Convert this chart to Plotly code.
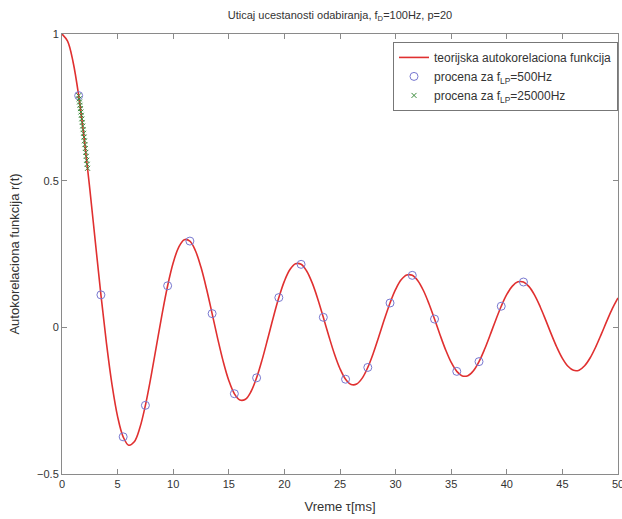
import plotly.graph_objects as go

# theoretical autocorrelation curve, tau in ms
tau_theory = [0.0, 0.5, 1.0, 1.5, 2.0, 2.5, 3.0, 3.5, 4.0, 4.5, 5.0, 5.5, 6.0, 6.5, 7.0, 7.5, 8.0, 8.5, 9.0, 9.5,
              10.0, 10.5, 11.0, 11.5, 12.0, 12.5, 13.0, 13.5, 14.0, 14.5, 15.0, 15.5, 16.0, 16.5, 17.0, 17.5,
              18.0, 18.5, 19.0, 19.5, 20.0, 20.5, 21.0, 21.5, 22.0, 22.5, 23.0, 23.5, 24.0, 24.5, 25.0, 25.5,
              26.0, 26.5, 27.0, 27.5, 28.0, 28.5, 29.0, 29.5, 30.0, 30.5, 31.0, 31.5, 32.0, 32.5, 33.0, 33.5,
              34.0, 34.5, 35.0, 35.5, 36.0, 36.5, 37.0, 37.5, 38.0, 38.5, 39.0, 39.5, 40.0, 40.5, 41.0, 41.5,
              42.0, 42.5, 43.0, 43.5, 44.0, 44.5, 45.0, 45.5, 46.0, 46.5, 47.0, 47.5, 48.0, 48.5, 49.0, 49.5,
              50.0]
r_theory = [1.0, 0.9755, 0.9038, 0.7899, 0.6425, 0.4720, 0.2905, 0.1107, -0.0549, -0.1961,
            -0.3042, -0.3733, -0.4018, -0.3903, -0.3427, -0.2659, -0.1688, -0.0616, 0.0451, 0.1417,
            0.2201, 0.2736, 0.2989, 0.2940, 0.2611, 0.2045, 0.1306, 0.0468, -0.0383, -0.1168,
            -0.1813, -0.2263, -0.2480, -0.2452, -0.2188, -0.1721, -0.1101, -0.0391, 0.0337, 0.1014,
            0.1576, 0.1971, 0.2167, 0.2148, 0.1921, 0.1514, 0.0969, 0.0342, -0.0305, -0.0909,
            -0.1412, -0.1769, -0.1947, -0.1933, -0.1732, -0.1367, -0.0876, -0.0308, 0.0280, 0.0830,
            0.1291, 0.1619, 0.1784, 0.1773, 0.1590, 0.1256, 0.0805, 0.0282, -0.0260, -0.0769,
            -0.1196, -0.1501, -0.1656, -0.1647, -0.1479, -0.1169, -0.0749, -0.0262, 0.0244, 0.0720,
            0.1120, 0.1406, 0.1551, 0.1545, 0.1387, 0.1097, 0.0703, 0.0246, -0.0231, -0.0679,
            -0.1057, -0.1326, -0.1465, -0.1459, -0.1311, -0.1037, -0.0665, -0.0232, 0.0219, 0.0645,
            0.1003]

# estimate, f_LP = 500 Hz
tau_500 = [1.5, 3.5, 5.5, 7.5, 9.5, 11.5, 13.5, 15.5, 17.5, 19.5, 21.5, 23.5, 25.5, 27.5, 29.5,
           31.5, 33.5, 35.5, 37.5, 39.5, 41.5]
r_500 = [0.7899, 0.1107, -0.3733, -0.2659, 0.1417, 0.2940, 0.0468, -0.2263, -0.1721, 0.1014,
         0.2148, 0.0342, -0.1769, -0.1367, 0.0830, 0.1773, 0.0282, -0.1501, -0.1169, 0.0720, 0.1545]

# estimate, f_LP = 25000 Hz
tau_25k = [1.50, 1.54, 1.58, 1.62, 1.66, 1.70, 1.74, 1.78, 1.82, 1.86, 1.90, 1.94, 1.98, 2.02,
           2.06, 2.10, 2.14, 2.18, 2.22, 2.26, 2.30]
r_25k = [0.7899, 0.7789, 0.7683, 0.7570, 0.7456, 0.7341, 0.7227, 0.7107, 0.6985, 0.6863, 0.6741,
         0.6615, 0.6486, 0.6358, 0.6230, 0.6097, 0.5964, 0.5830, 0.5696, 0.5559, 0.5421]

x_ticks = [0, 5, 10, 15, 20, 25, 30, 35, 40, 45, 50]
y_ticks = [-0.5, 0, 0.5, 1]
y_tick_text = ["\u22120.5", "0", "0.5", "1"]

FONT = "Liberation Sans, Arial, sans-serif"
AX = "#8a8a8a"

fig = go.Figure()
fig.add_trace(go.Scatter(x=tau_theory, y=r_theory, mode="lines",
                         line=dict(color="#e03030", width=1.6, shape="spline", smoothing=1.0),
                         name="teorijska autokorelaciona funkcija"))
fig.add_trace(go.Scatter(x=tau_500, y=r_500, mode="markers",
                         marker=dict(symbol="circle-open", size=8, color="#7878d0", line=dict(width=1)),
                         name="procena za f<sub>LP</sub>=500Hz"))
fig.add_trace(go.Scatter(x=tau_25k, y=r_25k, mode="markers",
                         marker=dict(symbol="x-thin-open", size=5, color="#3a8a3a",
                                     line=dict(width=1, color="#3a8a3a")),
                         name="procena za f<sub>LP</sub>=25000Hz"))

fig.update_layout(
    width=622, height=519,
    margin=dict(l=62, r=4, t=34, b=45, autoexpand=False),
    paper_bgcolor="white", plot_bgcolor="white",
    font=dict(family=FONT, size=11, color="#333333"),
    title=dict(text="Uticaj ucestanosti odabiranja, f<sub>D</sub>=100Hz, p=20",
               x=0.5, xanchor="center", xref="paper", y=1 - 15/519, yanchor="middle",
               font=dict(size=11, color="#333333")),
    showlegend=True,
    legend=dict(x=1, xanchor="right", y=0.982, yanchor="top",
                bgcolor="white", bordercolor="#777777", borderwidth=1,
                font=dict(size=12, color="#333333"), tracegroupgap=0,
                itemwidth=30),
)
fig.update_xaxes(range=[0, 50], tickvals=x_ticks, ticks="inside", ticklen=5, tickcolor=AX,
                 showline=True, linecolor=AX, linewidth=1, mirror="ticks", showgrid=False,
                 zeroline=False, title=dict(text="Vreme \u03c4[ms]", standoff=12),
                 tickfont=dict(size=11), ticklabeloverflow="allow", automargin=False)
fig.update_yaxes(range=[-0.5, 1], tickvals=y_ticks, ticktext=y_tick_text, ticks="inside", ticklen=5,
                 tickcolor=AX, showline=True, linecolor=AX, linewidth=1, mirror="ticks",
                 showgrid=False, zeroline=False,
                 title=dict(text="Autokorelaciona funkcija r(t)", standoff=14),
                 tickfont=dict(size=11), automargin=False)

fig.write_html("out.html")
